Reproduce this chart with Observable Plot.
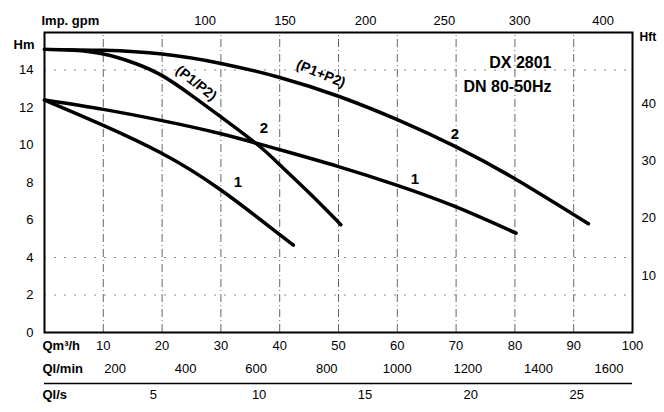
<!DOCTYPE html>
<html><head><meta charset="utf-8">
<script src="https://cdn.jsdelivr.net/npm/d3@7"></script>
<script src="https://cdn.jsdelivr.net/npm/@observablehq/plot@0.6"></script>
<style>body{margin:0;background:#fff;} #chart{width:664px;height:412px;}</style>
</head><body><div id="chart"></div>
<script>
// Flow in m3/h, head in m
const p1p2c2_q = [0, 5, 10, 15, 20, 25, 30, 36.3, 40, 45, 50.4];
const p1p2c2_h = [15.1, 15.05, 14.85, 14.4, 13.7, 12.65, 11.5, 10.0, 8.95, 7.45, 5.75];
const p1p2c1_q = [0, 10, 20, 30, 40.5, 42.2];
const p1p2c1_h = [12.4, 11.05, 9.55, 7.6, 5.1, 4.7];
const sumc2_q = [0, 10, 20, 30, 40, 50, 60, 70, 80, 92.5];
const sumc2_h = [15.1, 15.05, 14.85, 14.35, 13.6, 12.6, 11.35, 9.9, 8.2, 5.8];
const sumc1_q = [0, 10, 20, 30, 40, 50, 60, 70, 80.2];
const sumc1_h = [12.4, 11.9, 11.3, 10.6, 9.75, 8.85, 7.85, 6.7, 5.3];

const hmTicks = [0, 2, 4, 6, 8, 10, 12, 14];
const hftTicks = [10, 20, 30, 40];
const m3hTicks = [10, 20, 30, 40, 50, 60, 70, 80, 90, 100];
const lpmTicks = [200, 400, 600, 800, 1000, 1200, 1400, 1600];
const lpsTicks = [5, 10, 15, 20, 25];
const gpmTicks = [100, 150, 200, 250, 300, 400];
const gpmAt = [27.3, 40.9, 54.6, 68.0, 80.8, 95.0]; // printed positions on m3/h scale
const gridQ = [10, 20, 30, 40, 50, 60, 70, 80, 90];
const gridH = [2, 4, 14];

const curveLabels = [
  {q: 25.8, h: 13.3, t: "(P1/P2)", r: 38, s: 14},
  {q: 47.0, h: 13.8, t: "(P1+P2)", r: 22, s: 14},
  {q: 37.3, h: 10.9, t: "2", r: 0, s: 15},
  {q: 32.9, h: 8.0, t: "1", r: 0, s: 15},
  {q: 69.8, h: 10.6, t: "2", r: 0, s: 15},
  {q: 63.0, h: 8.2, t: "1", r: 0, s: 15}
];

const mk = (id, qs, hs) => qs.map((q, i) => ({id, q, h: hs[i]}));
const curves = [
  ...mk("p1p2-2", p1p2c2_q, p1p2c2_h),
  ...mk("p1p2-1", p1p2c1_q, p1p2c1_h),
  ...mk("sum-2", sumc2_q, sumc2_h),
  ...mk("sum-1", sumc1_q, sumc1_h)
];

const fs = 13;
const chart = Plot.plot({
  width: 664, height: 412,
  marginLeft: 44, marginRight: 32, marginTop: 32, marginBottom: 80,
  x: {domain: [0, 100], axis: null},
  y: {domain: [0, 16], axis: null},
  style: {fontFamily: "Liberation Sans, Arial, sans-serif", background: "#fff", color: "#000"},
  marks: [
    Plot.ruleX(gridQ, {x: d => d, y1: 0, y2: 16, stroke: "#333", strokeWidth: 1, strokeDasharray: "8,3,1,3", strokeOpacity: 0.75}),
    Plot.ruleY(gridH, {y: d => d, x1: 0, x2: 100, stroke: "#888", strokeWidth: 1, strokeDasharray: "2,8"}),
    Plot.line(curves, {x: "q", y: "h", z: "id", stroke: "#000", strokeWidth: 3.5, curve: "natural"}),
    Plot.frame({stroke: "#000", strokeWidth: 2}),
    // left axis
    Plot.text(hmTicks, {y: d => d, text: d => String(d), frameAnchor: "left", dx: -11, textAnchor: "end", fontSize: fs}),
    Plot.text(["Hm"], {frameAnchor: "top-left", dx: -10, dy: 7, textAnchor: "end", fontSize: fs, fontWeight: "bold"}),
    // right axis
    Plot.text(hftTicks, {y: d => d / 3.281, text: d => String(d), frameAnchor: "right", dx: 9, textAnchor: "start", fontSize: fs}),
    Plot.text(["Hft"], {frameAnchor: "top-right", dx: 7, dy: 0, textAnchor: "start", fontSize: 12, fontWeight: "bold"}),
    // top axis
    Plot.text(gpmTicks, {x: (d, i) => gpmAt[i], text: d => String(d), frameAnchor: "top", dy: -17, fontSize: fs}),
    Plot.text(["Imp. gpm"], {frameAnchor: "top-left", dx: -3, dy: -17, textAnchor: "start", fontSize: fs, fontWeight: "bold"}),
    // bottom rows
    Plot.text(m3hTicks, {x: d => d, text: d => String(d), frameAnchor: "bottom", dy: 17, fontSize: fs}),
    Plot.text(["Qm³/h"], {frameAnchor: "bottom-left", dx: -2, dy: 17, textAnchor: "start", fontSize: fs, fontWeight: "bold"}),
    Plot.text(lpmTicks, {x: d => d * 0.06, text: d => String(d), frameAnchor: "bottom", dy: 40, fontSize: fs}),
    Plot.text(["Ql/min"], {frameAnchor: "bottom-left", dx: -2, dy: 40, textAnchor: "start", fontSize: fs, fontWeight: "bold"}),
    Plot.ruleY([0], {dy: 51, stroke: "#000", strokeWidth: 1.5}),
    Plot.text(lpsTicks, {x: d => d * 3.6 + 0.5, text: d => String(d), frameAnchor: "bottom", dy: 66, fontSize: fs}),
    Plot.text(["Ql/s"], {frameAnchor: "bottom-left", dx: -2, dy: 66, textAnchor: "start", fontSize: fs, fontWeight: "bold"}),
    // title
    Plot.text(["DX 2801"], {frameAnchor: "top-right", dx: -81, dy: 24, fontSize: 16, fontWeight: "bold"}),
    Plot.text(["DN 80-50Hz"], {frameAnchor: "top-right", dx: -81, dy: 48, fontSize: 16, fontWeight: "bold"}),
    // curve labels
    Plot.text(curveLabels, {x: "q", y: "h", text: "t", rotate: "r", fontSize: "s", fontWeight: "bold"})
  ]
});
document.getElementById("chart").appendChild(chart);
</script>
</body></html>
